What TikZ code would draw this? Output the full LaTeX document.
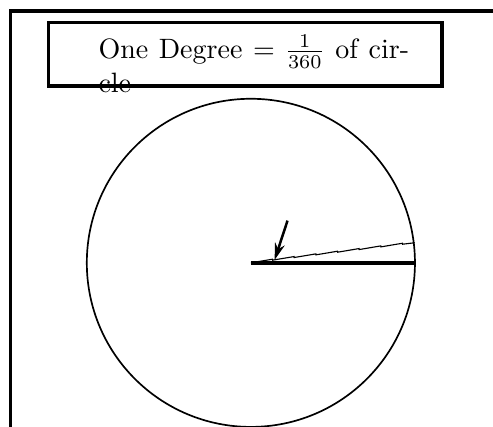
\documentclass[tikz,border=0pt]{standalone}
\usepackage{amsmath}
\usepackage{tikz}
\usetikzlibrary{arrows.meta, positioning, decorations.pathmorphing}

\begin{document}
\begin{tikzpicture}[>={Stealth[length=6pt, width=3.6pt]},
  every node/.style={font=\normalsize},
  titlebox/.style={draw, very thick, minimum width=4.94cm, minimum height=0.8cm, inner sep=0pt}
]
  \useasboundingbox (-3.15,-2.06) rectangle (3.04,3.30);

  % Frame on the left and top
  \coordinate (fbl) at (-3.02,-2.10);
  \coordinate (ftl) at (-3.02,3.16);
  \coordinate (ftr) at (3.10,3.16);
  \draw[very thick] (fbl) -- (ftl) -- (ftr);

  % Title box with the text running out of it
  \node[titlebox] (box) at (-0.07,2.62) {};
  \node[anchor=north west, inner sep=0pt, text width=3.9cm, align=justify] (title) at (-1.92,2.87)
    {One Degree $=\frac{1}{360}$ of circle};

  % The circle and its radii
  \coordinate (o) at (0,0);
  \node[circle, draw, semithick, minimum size=4.12cm, inner sep=0pt] (circ) at (o) {};
  \coordinate (e) at (circ.east);
  \coordinate (r) at (circ.7);
  \draw[very thick] (o) -- (e);
  \draw[thin, decorate, decoration={saw, segment length=7.8pt, amplitude=0.35pt}] (o) -- (r);

  % Arrow pointing at the small angle
  \coordinate (hit) at (7:0.30);
  \coordinate (tail) at (0.46,0.53);
  \draw[->, line width=0.9pt] (tail) -- (hit);
\end{tikzpicture}
\end{document}
